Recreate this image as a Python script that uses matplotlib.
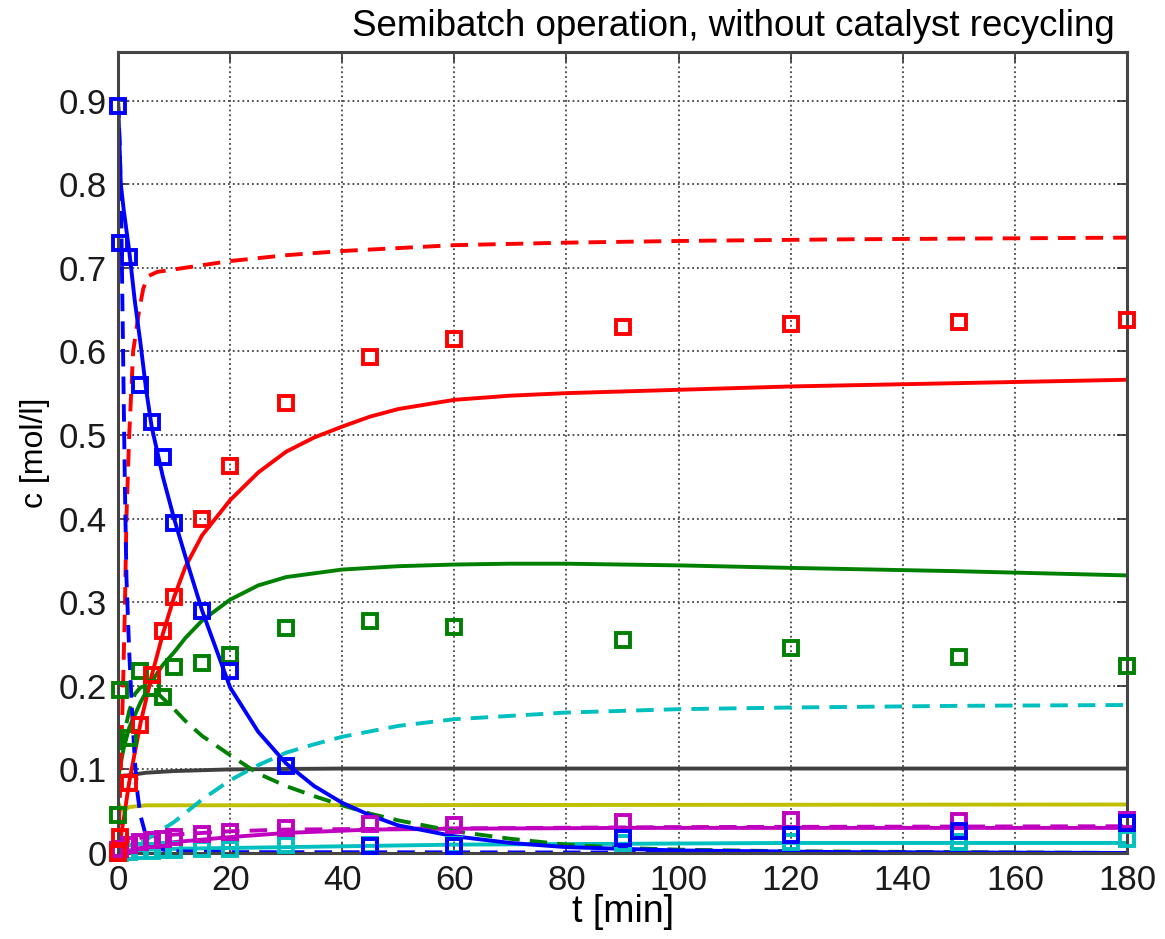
# Semibatch run without catalyst recycling: measured points vs. model curves
import numpy as np
import matplotlib
matplotlib.use("Agg")
import matplotlib.pyplot as plt

plt.rcParams['font.family'] = ['Liberation Sans', 'DejaVu Sans']

# colours (MATLAB style)
c_blue = (0, 0, 1)
c_red = (1, 0, 0)
c_green = (0, 0.5, 0)
c_cyan = (0, 0.75, 0.75)
c_mag = (0.75, 0, 0.75)
c_olive = (0.75, 0.75, 0)
c_gray = (0.25, 0.25, 0.25)

# ---- measured points ----
t_exp = [0, 0.3, 2, 4, 6, 8, 10, 15, 20, 30, 45, 60, 90, 120, 150, 180]
blue_exp = [0.893, 0.73, 0.713, 0.56, 0.516, 0.474, 0.395, 0.29, 0.218, 0.104,
            0.008, 0.008, 0.018, 0.022, 0.026, 0.036]
red_exp = [0.0, 0.019, 0.084, 0.153, 0.213, 0.265, 0.306, 0.40, 0.463, 0.538,
           0.593, 0.615, 0.629, 0.633, 0.635, 0.638]
green_exp = [0.045, 0.195, 0.138, 0.218, 0.197, 0.187, 0.223, 0.227, 0.237, 0.269,
             0.277, 0.27, 0.255, 0.245, 0.234, 0.224]
mag_exp = [0.003, 0.005, 0.01, 0.013, 0.016, 0.017, 0.019, 0.023, 0.025, 0.03,
           0.035, 0.033, 0.037, 0.039, 0.038, 0.039]
cyan_exp = [0.0, 0.0, 0.001, 0.002, 0.002, 0.003, 0.003, 0.005, 0.005, 0.009,
            0.009, 0.01, 0.012, 0.013, 0.013, 0.017]

# ---- model curves ----
t_blue = [0, 0.5, 1, 2, 3, 4, 5, 6, 8, 10, 12, 15, 20, 25, 30, 35, 40, 45, 50, 60,
          70, 80, 100, 130, 180]
blue_sol = [0.9, 0.80, 0.77, 0.72, 0.66, 0.61, 0.555, 0.51, 0.45, 0.40, 0.355, 0.29,
            0.198, 0.145, 0.107, 0.08, 0.06, 0.045, 0.033, 0.02, 0.012, 0.007, 0.003,
            0.001, 0.0]

t_blue_d = [0, 0.3, 0.6, 0.9, 1.2, 1.5, 2, 2.5, 3, 3.5, 4, 5, 6, 8, 10, 20, 180]
blue_dash = [0.9, 0.85, 0.75, 0.6, 0.45, 0.33, 0.24, 0.17, 0.11, 0.07, 0.045, 0.02,
             0.01, 0.004, 0.002, 0.001, 0.0]

t_red_d = [0, 0.5, 0.9, 1.25, 1.5, 2, 2.7, 3.8, 4.5, 5.4, 7, 10, 20, 30, 40, 60, 80,
           100, 130, 180]
red_dash = [0.0, 0.1, 0.2, 0.3, 0.4, 0.5, 0.6, 0.65, 0.675, 0.69, 0.695, 0.698, 0.708,
            0.715, 0.72, 0.727, 0.73, 0.732, 0.734, 0.736]

t_red = [0, 1, 2, 4, 6, 8, 10, 12, 15, 20, 25, 30, 35, 40, 45, 50, 60, 70, 80, 100,
         120, 150, 180]
red_sol = [0.0, 0.04, 0.085, 0.155, 0.212, 0.262, 0.306, 0.342, 0.38, 0.422, 0.455,
           0.48, 0.497, 0.51, 0.522, 0.531, 0.542, 0.547, 0.55, 0.554, 0.558, 0.562,
           0.566]

t_green = [0, 1, 2, 4, 6, 8, 10, 12, 15, 20, 25, 30, 40, 50, 60, 70, 80, 100, 120,
           150, 180]
green_sol = [0.09, 0.125, 0.15, 0.18, 0.205, 0.225, 0.24, 0.257, 0.278, 0.303, 0.32,
             0.33, 0.339, 0.343, 0.345, 0.346, 0.346, 0.344, 0.341, 0.337, 0.332]

t_green_d = [0, 1, 2, 3, 4, 5, 6, 8, 10, 12, 15, 20, 25, 30, 35, 40, 45, 50, 60, 70,
             80, 90, 100, 120, 150, 180]
green_dash = [0.09, 0.14, 0.17, 0.19, 0.198, 0.2, 0.198, 0.185, 0.172, 0.158, 0.14,
              0.117, 0.095, 0.08, 0.068, 0.057, 0.047, 0.039, 0.026, 0.017, 0.01,
              0.006, 0.004, 0.002, 0.001, 0.0]

t_cyan_d = [0, 2, 4, 6, 10, 15, 20, 25, 30, 35, 40, 50, 60, 80, 100, 120, 150, 180]
cyan_dash = [0.0, 0.0, 0.012, 0.02, 0.037, 0.064, 0.087, 0.105, 0.12, 0.13, 0.139,
             0.152, 0.16, 0.168, 0.172, 0.174, 0.176, 0.177]

t_cyan = [0, 2, 5, 10, 20, 40, 60, 90, 120, 180]
cyan_sol = [0.0, 0.002, 0.004, 0.005, 0.006, 0.008, 0.01, 0.011, 0.012, 0.012]

t_gray = [0, 2, 5, 10, 20, 40, 180]
gray_sol = [0.092, 0.093, 0.096, 0.098, 0.1, 0.101, 0.101]

t_olive = [0, 1, 2, 5, 180]
olive_sol = [0.06, 0.05, 0.055, 0.057, 0.058]

t_mag = [0, 2, 4, 10, 20, 30, 45, 60, 90, 180]
mag_sol = [0.0, 0.003, 0.006, 0.013, 0.019, 0.024, 0.028, 0.029, 0.03, 0.03]

t_mag_d = [0, 1, 2, 4, 6, 10, 20, 30, 50, 100, 180]
mag_dash = [0.0, 0.01, 0.015, 0.018, 0.02, 0.022, 0.026, 0.028, 0.029, 0.031, 0.032]

x_ticks = [0, 20, 40, 60, 80, 100, 120, 140, 160, 180]
y_ticks = [0, 0.1, 0.2, 0.3, 0.4, 0.5, 0.6, 0.7, 0.8, 0.9]
y_labels = ['0', '0.1', '0.2', '0.3', '0.4', '0.5', '0.6', '0.7', '0.8', '0.9']

fig = plt.figure(figsize=(11.65, 9.39), dpi=100)
ax = fig.add_axes([0.1013, 0.0916, 0.8661, 0.853])

lw = 2.8
dash = (4.5, 2.6)

ax.plot(t_cyan, cyan_sol, color=c_cyan, lw=lw)
ax.plot(t_mag, mag_sol, color=c_mag, lw=lw)
ax.plot(t_mag_d, mag_dash, color=c_mag, lw=lw, dashes=dash)
ax.plot(t_olive, olive_sol, color=c_olive, lw=lw)
ax.plot(t_gray, gray_sol, color=c_gray, lw=lw)
ax.plot(t_cyan_d, cyan_dash, color=c_cyan, lw=lw, dashes=dash)
ax.plot(t_green_d, green_dash, color=c_green, lw=lw, dashes=dash)
ax.plot(t_green, green_sol, color=c_green, lw=lw)
ax.plot(t_red_d, red_dash, color=c_red, lw=lw, dashes=dash)
ax.plot(t_red, red_sol, color=c_red, lw=lw)
ax.plot(t_blue_d, blue_dash, color=c_blue, lw=lw, dashes=dash)
ax.plot(t_blue, blue_sol, color=c_blue, lw=lw)

mk = dict(marker='s', linestyle='none', markersize=10, markeredgewidth=2.8,
          markerfacecolor='none', clip_on=False, zorder=5)
ax.plot(t_exp, cyan_exp, color=c_cyan, **mk)
ax.plot(t_exp, mag_exp, color=c_mag, **mk)
ax.plot(t_exp, green_exp, color=c_green, **mk)
ax.plot(t_exp, red_exp, color=c_red, **mk)
ax.plot(t_exp, blue_exp, color=c_blue, **mk)

ax.set_xlim(0, 180)
ax.set_ylim(0, 0.958)
ax.set_xticks(x_ticks)
ax.set_yticks(y_ticks)
ax.set_yticklabels(y_labels)
ax.tick_params(direction='in', top=True, right=True, length=7, width=1.2,
               labelsize=25, colors='#333333', labelcolor='#1a1a1a', pad=8)
ax.grid(True, linestyle=':', color='#444444', linewidth=1.3)
for s in ax.spines.values():
    s.set_linewidth(2.2)
    s.set_color('#444444')

ax.set_xlabel('t [min]', fontsize=27, labelpad=-2)
ax.set_ylabel('c [mol/l]', fontsize=23, labelpad=6)

fig.text(1115 / 1165, 1 - 27 / 939, 'Semibatch operation, without catalyst recycling',
         ha='right', va='center', fontsize=26.5)

fig.savefig('out.png', dpi=100)
